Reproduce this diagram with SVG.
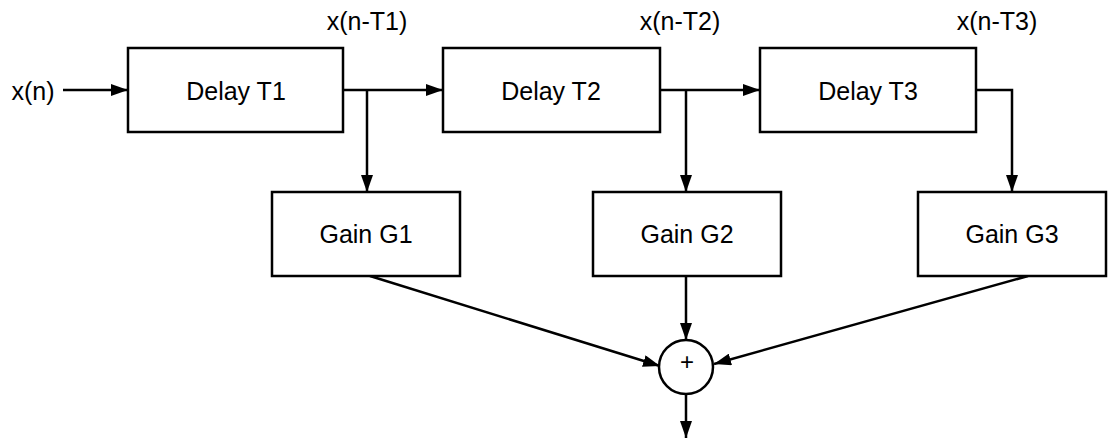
<svg xmlns="http://www.w3.org/2000/svg" width="1112" height="444" viewBox="0 0 1112 444">
<style>
.box{fill:#fff;stroke:#000;stroke-width:2.5}
.lbl{font-family:"Liberation Sans",Arial,sans-serif;font-size:25px;fill:#000;text-anchor:middle}
.ln{fill:none;stroke:#000;stroke-width:2.5;marker-end:url(#ah)}
</style>
<defs>
<marker id="ah" markerUnits="userSpaceOnUse" markerWidth="18" markerHeight="12" refX="17" refY="6" orient="auto">
<path d="M0,0 L17,6 L0,12 Z" fill="#000"/>
</marker>
</defs>
<rect width="1112" height="444" fill="#fff"/>
<g id="connectors">
<path class="ln" d="M63,90 L128,90"/>
<path class="ln" d="M343,90 L443,90"/>
<path class="ln" d="M367,90 L367,192"/>
<path class="ln" d="M660,90 L760,90"/>
<path class="ln" d="M686,90 L686,192"/>
<path class="ln" d="M976,90 L1012,90 L1012,192"/>
<path class="ln" d="M370,276 L660,366"/>
<path class="ln" d="M686,276 L686,340"/>
<path class="ln" d="M1028,276 L714,364"/>
<path class="ln" d="M686,394 L686,438"/>
</g>
<g id="input"><text class="lbl" x="33" y="100">x(n)</text></g>
<g id="delay1"><rect class="box" x="128" y="48" width="215" height="84"/><text class="lbl" x="236" y="100">Delay T1</text></g>
<g id="delay2"><rect class="box" x="443" y="48" width="217" height="84"/><text class="lbl" x="551" y="100">Delay T2</text></g>
<g id="delay3"><rect class="box" x="760" y="48" width="216" height="84"/><text class="lbl" x="868" y="100">Delay T3</text></g>
<g id="tap1"><text class="lbl" x="367" y="30">x(n-T1)</text></g>
<g id="tap2"><text class="lbl" x="680" y="30">x(n-T2)</text></g>
<g id="tap3"><text class="lbl" x="997" y="30">x(n-T3)</text></g>
<g id="gain1"><rect class="box" x="272" y="192" width="188" height="84"/><text class="lbl" x="366" y="243">Gain G1</text></g>
<g id="gain2"><rect class="box" x="593" y="192" width="188" height="84"/><text class="lbl" x="687" y="243">Gain G2</text></g>
<g id="gain3"><rect class="box" x="918" y="192" width="188" height="84"/><text class="lbl" x="1012" y="243">Gain G3</text></g>
<g id="sum"><circle cx="686" cy="367" r="27" fill="#fff" stroke="#000" stroke-width="2.5"/><text class="lbl" x="687" y="370" style="font-size:24px">+</text></g>
</svg>
